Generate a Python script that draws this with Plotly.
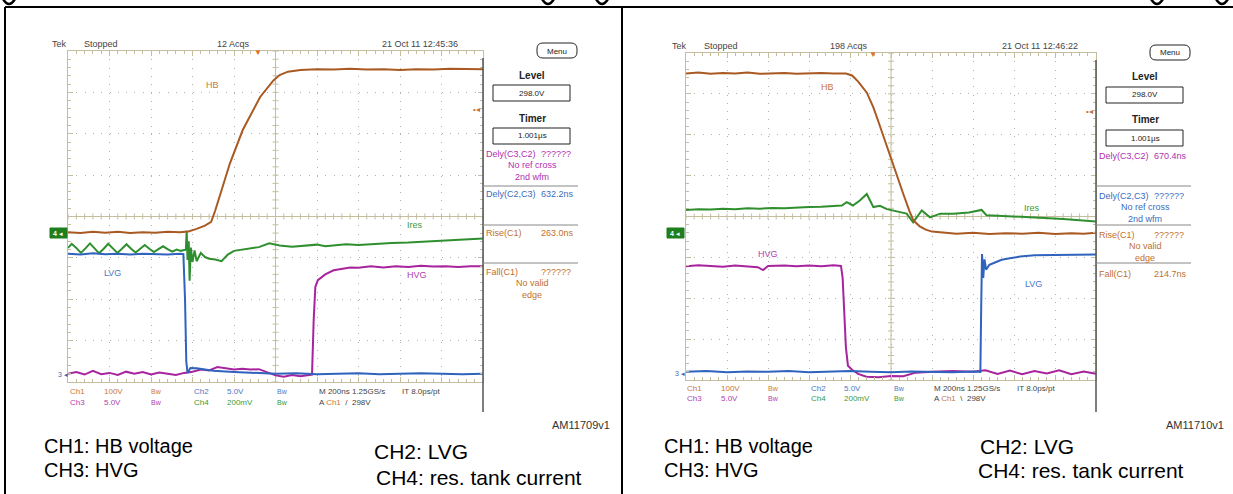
import plotly.graph_objects as go

W, H = 1233, 494

# ---------------- data (time in divisions @ 200 ns/div, amplitude in screen divisions) -------------
# Left capture: HB rising edge
L_hb_t = [0, 0.3, 0.6, 0.9, 1.2, 1.5, 1.8, 2.1, 2.4, 2.7, 2.9, 3.1, 3.3, 3.45, 3.55, 3.65, 3.9, 4.21, 4.63, 4.95, 5.1, 5.3, 5.6, 6.0, 6.4, 6.8, 7.2, 7.6, 8.0, 8.4, 8.8, 9.2, 9.6, 10]
L_hb_v = [3.62, 3.60, 3.63, 3.61, 3.63, 3.60, 3.62, 3.61, 3.63, 3.62, 3.64, 3.70, 3.78, 3.87, 4.15, 4.48, 5.28, 6.09, 6.89, 7.29, 7.42, 7.50, 7.54, 7.56, 7.55, 7.57, 7.55, 7.56, 7.54, 7.56, 7.55, 7.57, 7.56, 7.56]

L_ires_t = [0, 0.09, 0.2, 0.31, 0.42, 0.53, 0.64, 0.75, 0.86, 0.97, 1.08, 1.19, 1.30, 1.41, 1.52, 1.63, 1.74, 1.85, 1.96, 2.07, 2.18, 2.29, 2.40, 2.51, 2.62, 2.72, 2.80, 2.84, 2.86, 2.88, 2.91, 2.93, 2.96, 3.0, 3.05, 3.1, 3.2, 3.3, 3.4, 3.55, 3.7, 3.85, 4.0, 4.2, 4.4, 4.6, 4.85, 5.1, 5.4, 5.7, 6.0, 6.2, 6.4, 6.7, 7.0, 7.4, 7.8, 8.2, 8.6, 9.0, 9.4, 9.7, 10]
L_ires_v = [3.24, 3.34, 3.24, 3.12, 3.23, 3.35, 3.23, 3.11, 3.22, 3.34, 3.23, 3.12, 3.22, 3.33, 3.22, 3.13, 3.22, 3.31, 3.22, 3.14, 3.21, 3.28, 3.21, 3.15, 3.2, 3.17, 3.19, 3.2, 3.66, 2.95, 3.4, 2.45, 3.25, 2.9, 3.18, 2.92, 3.12, 3.02, 2.98, 2.96, 2.92, 3.08, 3.17, 3.2, 3.24, 3.26, 3.35, 3.3, 3.27, 3.3, 3.32, 3.28, 3.3, 3.33, 3.31, 3.34, 3.36, 3.37, 3.39, 3.42, 3.43, 3.45, 3.47]

L_lvg_t = [0, 0.3, 0.6, 0.9, 1.2, 1.5, 1.8, 2.1, 2.4, 2.7, 2.78, 2.82, 2.85, 2.88, 2.95, 3.1, 3.3, 3.5, 4.0, 4.5, 5.0, 5.5, 6.0, 6.5, 7.0, 7.5, 8.0, 8.5, 9.0, 9.5, 10]
L_lvg_v = [3.1, 3.08, 3.11, 3.09, 3.1, 3.08, 3.1, 3.09, 3.08, 3.1, 3.09, 2.0, 0.5, 0.22, 0.34, 0.33, 0.3, 0.27, 0.24, 0.22, 0.2, 0.21, 0.19, 0.2, 0.21, 0.19, 0.2, 0.21, 0.2, 0.19, 0.2]

L_hvg_t = [0, 0.2, 0.4, 0.6, 0.8, 1.0, 1.2, 1.4, 1.6, 1.8, 2.0, 2.2, 2.4, 2.6, 2.8, 3.0, 3.2, 3.4, 3.6, 3.8, 4.0, 4.2, 4.4, 4.6, 4.8, 5.0, 5.2, 5.4, 5.6, 5.8, 5.88, 5.92, 5.96, 6.02, 6.2, 6.4, 6.8, 7.0, 7.3, 7.6, 7.9, 8.2, 8.5, 8.8, 9.1, 9.4, 9.7, 10]
L_hvg_v = [0.2, 0.24, 0.18, 0.27, 0.19, 0.22, 0.17, 0.25, 0.2, 0.24, 0.18, 0.23, 0.2, 0.17, 0.22, 0.25, 0.3, 0.28, 0.36, 0.33, 0.3, 0.32, 0.3, 0.31, 0.24, 0.16, 0.13, 0.17, 0.14, 0.16, 0.18, 1.5, 2.3, 2.46, 2.6, 2.7, 2.77, 2.76, 2.8, 2.77, 2.8, 2.78, 2.81, 2.79, 2.8, 2.78, 2.8, 2.8]

# Right capture: HB falling edge
R_hb_t = [0, 0.3, 0.6, 0.9, 1.2, 1.5, 1.8, 2.1, 2.4, 2.7, 3.0, 3.3, 3.6, 3.9, 4.05, 4.2, 4.41, 4.57, 4.7, 4.9, 5.1, 5.3, 5.45, 5.55, 5.7, 5.85, 6.0, 6.3, 6.6, 7.0, 7.4, 7.8, 8.2, 8.6, 9.0, 9.4, 9.7, 10]
R_hb_v = [7.5, 7.52, 7.49, 7.51, 7.5, 7.52, 7.49, 7.5, 7.51, 7.49, 7.5, 7.51, 7.5, 7.5, 7.45, 7.3, 7.03, 6.67, 6.3, 5.7, 5.12, 4.55, 4.13, 3.9, 3.76, 3.68, 3.63, 3.6, 3.58, 3.6, 3.57, 3.59, 3.58, 3.6, 3.57, 3.59, 3.58, 3.6]

R_ires_t = [0, 0.3, 0.6, 0.9, 1.2, 1.5, 1.8, 2.1, 2.4, 2.7, 3.0, 3.3, 3.6, 3.8, 3.92, 4.07, 4.24, 4.41, 4.57, 4.73, 4.9, 5.05, 5.2, 5.38, 5.54, 5.75, 5.95, 6.2, 6.52, 6.9, 7.21, 7.33, 7.6, 8.0, 8.4, 8.8, 9.2, 9.6, 10]
R_ires_v = [4.16, 4.18, 4.17, 4.19, 4.18, 4.2, 4.19, 4.21, 4.2, 4.22, 4.23, 4.24, 4.26, 4.27, 4.35, 4.27, 4.39, 4.55, 4.23, 4.26, 4.18, 4.15, 4.12, 4.07, 3.86, 4.15, 3.98, 4.07, 4.07, 4.1, 4.16, 4.03, 4.02, 4.0, 3.99, 3.96, 3.94, 3.91, 3.88]

R_hvg_t = [0, 0.3, 0.6, 0.9, 1.2, 1.5, 1.75, 1.88, 2.0, 2.4, 2.7, 3.0, 3.3, 3.6, 3.78, 3.82, 3.86, 3.9, 3.95, 4.05, 4.2, 4.4, 4.7, 5.0, 5.3, 5.6, 6.0, 6.5, 7.0, 7.3, 7.6, 7.9, 8.2, 8.5, 8.8, 9.1, 9.4, 9.7, 10]
R_hvg_v = [2.78, 2.81, 2.79, 2.77, 2.8, 2.78, 2.76, 2.69, 2.79, 2.8, 2.78, 2.8, 2.78, 2.81, 2.79, 2.5, 1.6, 0.8, 0.35, 0.25, 0.15, 0.08, 0.07, 0.1, 0.09, 0.18, 0.2, 0.22, 0.2, 0.24, 0.15, 0.23, 0.14, 0.22, 0.16, 0.24, 0.14, 0.21, 0.15]

R_lvg_t = [0, 0.5, 1.0, 1.5, 2.0, 2.5, 3.0, 3.5, 4.0, 4.5, 5.0, 5.5, 6.0, 6.5, 7.0, 7.18, 7.2, 7.22, 7.25, 7.28, 7.32, 7.4, 7.55, 7.7, 7.9, 8.15, 8.5, 9.0, 9.5, 10]
R_lvg_v = [0.2, 0.22, 0.19, 0.21, 0.2, 0.22, 0.19, 0.21, 0.22, 0.2, 0.19, 0.21, 0.2, 0.19, 0.21, 0.2, 1.8, 3.08, 2.5, 2.95, 2.7, 2.82, 2.88, 2.94, 2.98, 3.02, 3.05, 3.06, 3.07, 3.07]

# text content
L_header = ["Tek", "Stopped", "12 Acqs", "21 Oct 11 12:45:36"]
R_header = ["Tek", "Stopped", "198 Acqs", "21 Oct 11 12:46:22"]
L_meas = [("Dely(C3,C2)", "??????", ["No ref cross", "2nd wfm"], "#b030b0"),
          ("Dely(C2,C3)", "632.2ns", [], "#3a6cc0"),
          ("Rise(C1)", "263.0ns", [], "#c0702e"),
          ("Fall(C1)", "??????", ["No valid", "edge"], "#c0702e")]
R_meas = [("Dely(C3,C2)", "670.4ns", [], "#b030b0"),
          ("Dely(C2,C3)", "??????", ["No ref cross", "2nd wfm"], "#3a6cc0"),
          ("Rise(C1)", "??????", ["No valid", "edge"], "#c0702e"),
          ("Fall(C1)", "214.7ns", [], "#c0702e")]

# ---------------- styling ----------------
C_HB, C_IRES, C_LVG, C_HVG = "#a95a22", "#2f8f2f", "#2f63bd", "#a8249e"
L_HB, L_IRES, L_LVG, L_HVG = "#c8783a", "#3a9a3a", "#4a78c8", "#b040b0"
TAN = "#c4be9e"
DOT = "#b0b0b0"
NARROW = "Liberation Sans Narrow, Arial Narrow, Liberation Sans, Arial"
SANS = "Liberation Sans, Arial, sans-serif"

def PX(x):
    return x / W

def PY(y):
    return 1 - y / H

annotations = []
shapes = []

def txt(x, y, s, color="#444", size=9, xanchor="left", family=NARROW, yanchor="middle"):
    annotations.append(dict(x=PX(x), y=PY(y), xref="paper", yref="paper", text=s,
                            showarrow=False, xanchor=xanchor, yanchor=yanchor,
                            font=dict(color=color, size=size, family=family)))

def line(x0, y0, x1, y1, color="#000", width=1):
    shapes.append(dict(type="line", xref="paper", yref="paper", x0=PX(x0), y0=PY(y0),
                       x1=PX(x1), y1=PY(y1), line=dict(color=color, width=width)))

def rect(x0, y0, x1, y1, color="#000", width=1, fill=None):
    shapes.append(dict(type="rect", xref="paper", yref="paper", x0=PX(x0), y0=PY(y0),
                       x1=PX(x1), y1=PY(y1), line=dict(color=color, width=width),
                       fillcolor=fill if fill else "rgba(0,0,0,0)"))

def rrect(x0, y0, x1, y1, r, color="#000", width=1):
    rx, ry = r / W, r / H
    a, b, c, d = PX(x0), PY(y0), PX(x1), PY(y1)
    p = (f"M {a+rx} {b} L {c-rx} {b} Q {c} {b} {c} {b-ry} L {c} {d+ry} Q {c} {d} {c-rx} {d} "
         f"L {a+rx} {d} Q {a} {d} {a} {d+ry} L {a} {b-ry} Q {a} {b} {a+rx} {b} Z")
    shapes.append(dict(type="path", xref="paper", yref="paper", path=p,
                       line=dict(color=color, width=width)))

def frag(x):
    # lower part of a clipped title glyph
    p = f"M {PX(x-6)} {PY(-1)} Q {PX(x)} {PY(9)} {PX(x+6)} {PY(-1)}"
    shapes.append(dict(type="path", xref="paper", yref="paper", path=p,
                       line=dict(color="#000", width=2.5)))

fig = go.Figure()

panels = [
    dict(ax="", grid=(68, 51, 483, 382), data=(L_hvg_t, L_hvg_v, L_ires_t, L_ires_v, L_hb_t, L_hb_v, L_lvg_t, L_lvg_v)),
    dict(ax="2", grid=(686, 53, 1096, 380), data=(R_hvg_t, R_hvg_v, R_ires_t, R_ires_v, R_hb_t, R_hb_v, R_lvg_t, R_lvg_v)),
]

for p in panels:
    ax = p["ax"]
    x0, y0, x1, y1 = p["grid"]
    xr, yr = "x" + ax, "y" + ax
    axcommon = dict(showticklabels=False, ticks="inside", ticklen=5, tickcolor=TAN, tickwidth=1,
                    showline=True, linecolor=TAN, linewidth=1, mirror="ticks",
                    showgrid=True, gridcolor=DOT, griddash="1px,7.3px", gridwidth=1,
                    zeroline=False, fixedrange=True,
                    minor=dict(dtick=0.2, ticks="inside", ticklen=3, tickcolor=TAN, showgrid=False))
    fig.update_layout(**{
        "xaxis" + ax: dict(range=[0, 10], domain=[PX(x0), PX(x1)], dtick=1, tick0=0, anchor=yr, **axcommon),
        "yaxis" + ax: dict(range=[0, 8], domain=[PY(y1), PY(y0)], dtick=1, tick0=0, anchor=xr, **axcommon),
    })
    # center graticule with cross ticks
    cx, cy = [], []
    dx = 3.0 / ((x1 - x0) / 10)
    dy = 3.0 / ((y1 - y0) / 8)
    cx += [0, 10, None]; cy += [4, 4, None]
    cx += [5, 5, None]; cy += [0, 8, None]
    for k in range(51):
        cx += [k * 0.2, k * 0.2, None]; cy += [4 - dy, 4 + dy, None]
    for k in range(41):
        cx += [5 - dx, 5 + dx, None]; cy += [k * 0.2, k * 0.2, None]
    fig.add_trace(go.Scatter(x=cx, y=cy, mode="lines", line=dict(color=TAN, width=1),
                             hoverinfo="skip", showlegend=False, xaxis=xr, yaxis=yr))
    ht, hv, it, iv, bt, bv, lt, lv = p["data"]
    for t, v, c in [(ht, hv, C_HVG), (it, iv, C_IRES), (bt, bv, C_HB), (lt, lv, C_LVG)]:
        fig.add_trace(go.Scatter(x=t, y=v, mode="lines", line=dict(color=c, width=2),
                                 hoverinfo="skip", showlegend=False, xaxis=xr, yaxis=yr))
    # dark right edge of graticule
    line(x1, y0 + 7, x1, 412, color="#555", width=1.5)

# ---------------- frame ----------------
line(5, 7, 1233, 7, "#000", 2)
line(5, 7, 5, 494, "#000", 2)
line(622, 7, 622, 494, "#000", 2)
for gx in [9, 548, 602, 1157, 1222]:
    frag(gx)

# ---------------- per-panel text ----------------
def panel_text(off_x, off_y, gx1, header, meas, hx):
    txt(50 + off_x, 44 + off_y, header[0])
    txt(82 + off_x, 44 + off_y, header[1])
    txt(hx + off_x, 44 + off_y, header[2])
    txt(380 + off_x, 44 + off_y, header[3])
    cxm = gx1 + 49
    rrect(gx1 + 54, 43 + off_y, gx1 + 94, 58 + off_y, 6, "#222", 1)
    txt(gx1 + 74, 51 + off_y, "Menu", "#222", 8, "center")
    txt(cxm, 75 + off_y, "<b>Level</b>", "#222", 10, "center", SANS)
    rect(gx1 + 10, 85 + off_y, gx1 + 87, 101 + off_y, "#222", 1)
    txt(cxm, 93 + off_y, "298.0V", "#222", 8, "center")
    txt(cxm, 118 + off_y, "<b>Timer</b>", "#222", 10, "center", SANS)
    rect(gx1 + 10, 128 + off_y, gx1 + 87, 144 + off_y, "#222", 1)
    txt(cxm, 136 + off_y, "1.001µs", "#222", 8, "center")
    slots = [154, 194, 233, 272]
    for i, (name, val, extra, col) in enumerate(meas):
        ys = slots[i] + off_y
        txt(gx1 + 1, ys, name, col, 9)
        txt(gx1 + 56, ys, val, col, 9)
        for j, e in enumerate(extra):
            txt(cxm, ys + 11 + j * 12, e, col, 9, "center")
    for ly in [186, 225, 263]:
        line(gx1, ly, gx1 + 95, ly, "#888", 1)

panel_text(0, 0, 483, L_header, L_meas, 215)
panel_text(620, 2, 1096, R_header, R_meas, 208)

def info(ox, y1, y2, mx, trig):
    txt(ox + 0, y1, "Ch1", L_HB, 8); txt(ox + 34, y1, "100V", L_HB, 8); txt(ox + 81, y1, "Bw", L_HB, 7)
    txt(ox + 0, y2, "Ch3", L_HVG, 8); txt(ox + 34, y2, "5.0V", L_HVG, 8); txt(ox + 81, y2, "Bw", L_HVG, 7)
    txt(ox + 124, y1, "Ch2", L_LVG, 8); txt(ox + 157, y1, "5.0V", L_LVG, 8); txt(ox + 207, y1, "Bw", L_LVG, 7)
    txt(ox + 124, y2, "Ch4", L_IRES, 8); txt(ox + 157, y2, "200mV", L_IRES, 8); txt(ox + 207, y2, "Bw", L_IRES, 7)
    txt(mx, y1, "M 200ns 1.25GS/s", "#444", 8)
    txt(mx + 83, y1, "IT 8.0ps/pt", "#444", 8)
    txt(mx, y2, f"A <span style='color:{L_HB}'>Ch1</span>  {trig}  298V", "#444", 8)

info(68, 391, 402, 317, "/")
info(685, 388, 398, 932, "\\")

# waveform labels
txt(212, 85, "HB", L_HB, 9, "center"); txt(415, 225, "Ires", L_IRES, 9, "center")
txt(112, 273, "LVG", L_LVG, 9, "center"); txt(417, 275, "HVG", L_HVG, 9, "center")
txt(827, 87, "HB", L_HB, 9, "center"); txt(1032, 208, "Ires", L_IRES, 9, "center")
txt(768, 254, "HVG", L_HVG, 9, "center"); txt(1033, 284, "LVG", L_LVG, 9, "center")

# channel ground markers / trigger markers
for gx, gy in [(50, 233), (667, 233)]:
    rect(gx, gy - 5, gx + 17, gy + 5, "#1f7f1f", 1, "#1f7f1f")
    txt(gx + 8, gy, "<b>4</b> ◂", "#fff", 7, "center", SANS)
for gx, gy in [(63, 374), (680, 373)]:
    txt(gx, gy, "3 ◂", "#4a5fb0", 7, "center", SANS)
for tx, ty in [(258, 52), (873, 54)]:
    txt(tx, ty, "▼", "#e07020", 8, "center", SANS)
for tx, ty in [(476, 109), (1089, 111)]:
    txt(tx, ty, "•◂", "#c0702e", 8, "center", SANS)

# figure ids
txt(612, 425, "AM11709v1", "#333", 11, "right", SANS)
txt(1226, 425, "AM11710v1", "#333", 11, "right", SANS)

# captions
for ox in [0, 620]:
    txt(42 + ox, 446, "CH1: HB voltage", "#000", 20, "left", SANS)
    txt(42 + ox, 470, "CH3: HVG", "#000", 20, "left", SANS)
txt(372, 451, "CH2: LVG", "#000", 21, "left", SANS)
txt(374, 477, "CH4: res. tank current", "#000", 21, "left", SANS)
txt(978, 446, "CH2: LVG", "#000", 21, "left", SANS)
txt(976, 470, "CH4: res. tank current", "#000", 21, "left", SANS)

fig.update_layout(width=W, height=H, margin=dict(l=0, r=0, t=0, b=0),
                  paper_bgcolor="white", plot_bgcolor="white",
                  showlegend=False, annotations=annotations, shapes=shapes)

fig.write_html("out.html", config={"displayModeBar": False, "staticPlot": True},
               post_script="document.body.style.margin='0';")
